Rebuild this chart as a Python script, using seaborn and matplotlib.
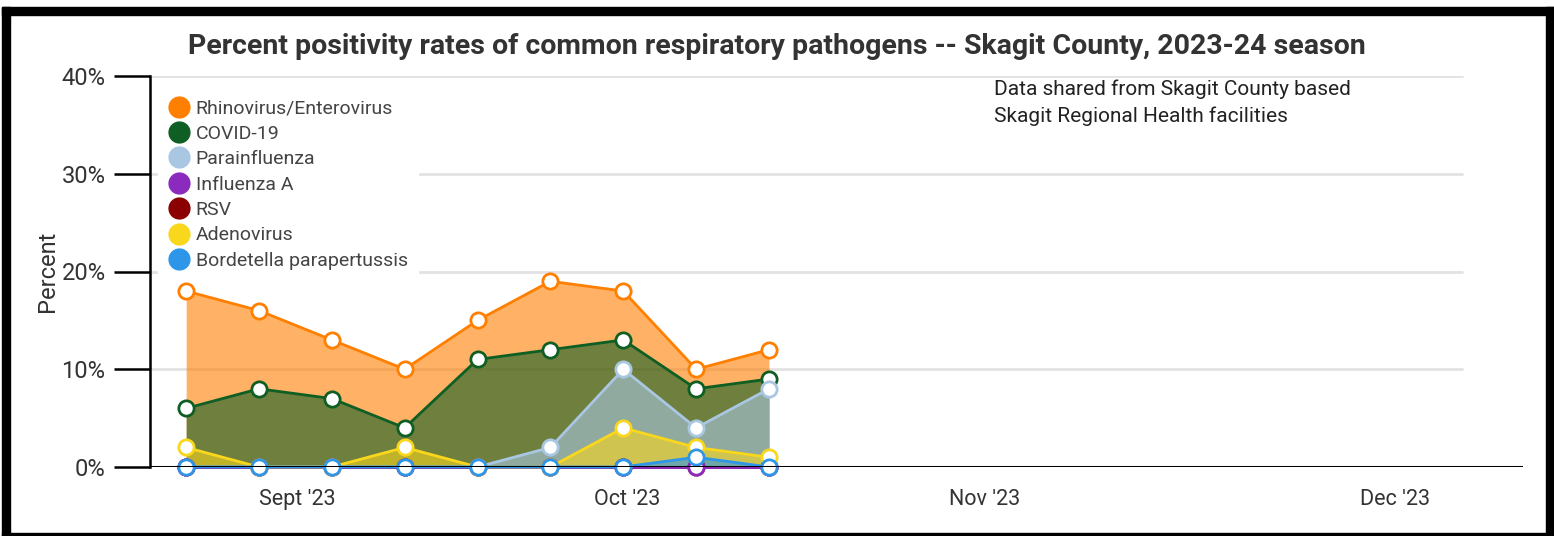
import numpy as np
import pandas as pd
import matplotlib
matplotlib.use("Agg")
import matplotlib.pyplot as plt
import seaborn as sns
from matplotlib.patches import Rectangle
from matplotlib.lines import Line2D

# weekly points, index 0 = first week shown (late Aug 2023)
weeks = list(range(9))
rhino = [18, 16, 13, 10, 15, 19, 18, 10, 12]
covid = [6, 8, 7, 4, 11, 12, 13, 8, 9]
parainf = [0, 0, 0, 0, 0, 2, 10, 4, 8]
flu_a = [0, 0, 0, 0, 0, 0, 0, 0, 0]
rsv = [0, 0, 0, 0, 0, 0, 0, 0, 0]
adeno = [2, 0, 0, 2, 0, 0, 4, 2, 1]
bordetella = [0, 0, 0, 0, 0, 0, 0, 1, 0]

names = ["Rhinovirus/Enterovirus", "COVID-19", "Parainfluenza", "Influenza A",
         "RSV", "Adenovirus", "Bordetella parapertussis"]
colors = ["#FF7F00", "#0F5E23", "#A9C7E2", "#8A2BBE", "#8B0000", "#F9D71C", "#2E96E8"]
series = [rhino, covid, parainf, flu_a, rsv, adeno, bordetella]
# drawing layer of each series (RSV sits below Influenza A)
layers = [0, 1, 2, 4, 3, 5, 6]

month_ticks = [1.53, 6.05, 10.96, 16.6]
month_labels = ["Sept '23", "Oct '23", "Nov '23", "Dec '23"]

df = pd.DataFrame({"week": weeks * len(names),
                   "pct": sum(series, []),
                   "pathogen": [n for n in names for _ in weeks]})

sns.set_style("white")
plt.rcParams["font.family"] = ["Roboto", "DejaVu Sans"]

fig = plt.figure(figsize=(15.54, 5.36), dpi=100)
ax = fig.add_axes([150 / 1554, 1 - 467 / 536, (1523 - 150) / 1554, (467 - 76) / 536])

# fills, back to front
for name, col in zip(names, colors):
    d = df[df["pathogen"] == name]
    ax.fill_between(d["week"], 0, d["pct"], color=col, alpha=0.6, lw=0, zorder=2)

# lines with open markers
for name, col, lay in zip(names, colors, layers):
    d = df[df["pathogen"] == name]
    sns.lineplot(data=d, x="week", y="pct", ax=ax, color=col, lw=2,
                 marker="o", markersize=11, markerfacecolor="white",
                 markeredgecolor=col, markeredgewidth=2, clip_on=False,
                 zorder=4 + lay, legend=False)

ax.set_xlim(-0.496, 18.35)
ax.set_ylim(0, 40)

for y in [10, 20, 30, 40]:
    ax.axhline(y, xmin=0, xmax=(1462 - 150) / (1523 - 150), color="#e2e2e2", lw=2, zorder=1)
ax.axhline(0, color="black", lw=2.2, zorder=20)

for s in ["top", "right", "bottom"]:
    ax.spines[s].set_visible(False)
ax.spines["left"].set_color("black")
ax.spines["left"].set_linewidth(1.8)

ax.set_yticks([0, 10, 20, 30, 40])
ax.set_yticklabels(["0%", "10%", "20%", "30%", "40%"])
ax.tick_params(axis="y", length=26, width=1.8, color="black", labelsize=17,
               labelcolor="#333333", pad=6, left=True)
ax.set_xticks(month_ticks)
ax.set_xticklabels(month_labels)
ax.tick_params(axis="x", length=0, labelsize=15.5, labelcolor="#333333", pad=16)
ax.set_xlabel("")
ax.set_ylabel("Percent", fontsize=17, color="#333333", labelpad=2)

handles = [Line2D([0], [0], marker="o", ls="", markersize=15, markerfacecolor=c,
                  markeredgecolor=c) for c in colors]
leg = ax.legend(handles, names, loc="upper left", bbox_to_anchor=(0.0, 0.985),
                frameon=True, fontsize=14, handletextpad=0.25, labelspacing=0.38,
                borderpad=0.5, handlelength=1.2, borderaxespad=0.4)
leg.get_frame().set_facecolor("white")
leg.get_frame().set_edgecolor("white")
leg.get_frame().set_alpha(1)
leg.set_zorder(30)
for t in leg.get_texts():
    t.set_color("#444444")

fig.text(994 / 1554, 1 - 79 / 536,
         "Data shared from Skagit County based\nSkagit Regional Health facilities",
         ha="left", va="top", fontsize=15, color="#222222", linespacing=1.5)

fig.text(777 / 1554, 1 - 46 / 536,
         "Percent positivity rates of common respiratory pathogens -- Skagit County, 2023-24 season",
         ha="center", va="center", fontsize=20.5, fontweight="bold", color="#333333")

# black frame round the figure
for (x0, y0, w, h) in [(2, 7, 8, 529), (2, 7, 1552, 8), (1546, 7, 8, 529), (2, 533, 1552, 3)]:
    fig.patches.append(Rectangle((x0 / 1554, 1 - (y0 + h) / 536), w / 1554, h / 536,
                                 transform=fig.transFigure, color="black", zorder=50))

fig.savefig("out.png", dpi=100)
